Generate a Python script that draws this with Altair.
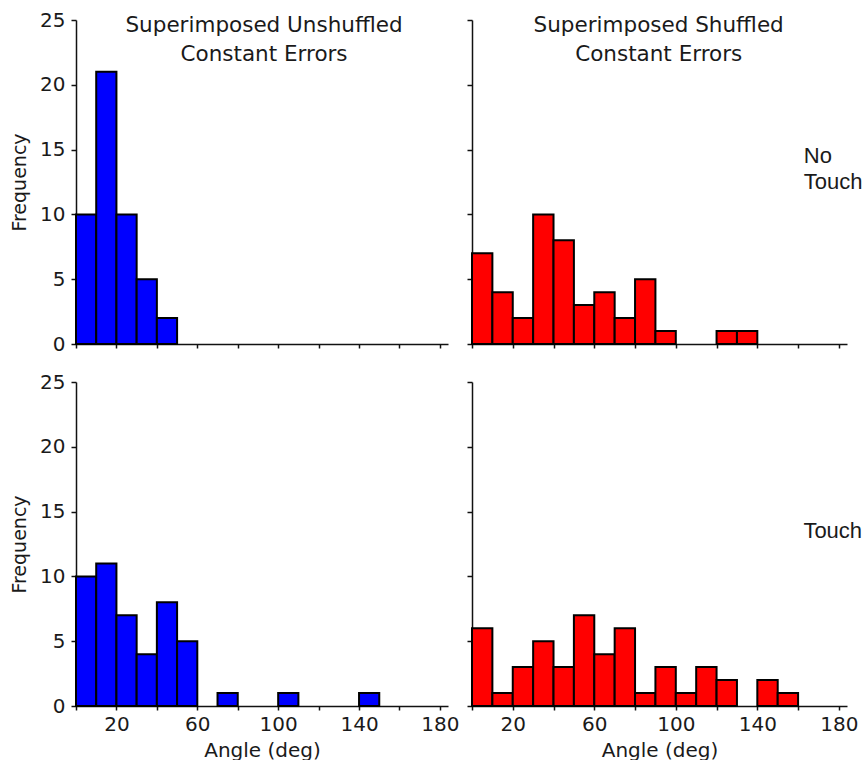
import altair as alt
import pandas as pd

# ---- data ----
bin_starts = list(range(0, 180, 10))
bin_width = 10
unshuffled_no_touch = [10, 21, 10, 5, 2, 0, 0, 0, 0, 0, 0, 0, 0, 0, 0, 0, 0, 0]
shuffled_no_touch = [7, 4, 2, 10, 8, 3, 4, 2, 5, 1, 0, 0, 1, 1, 0, 0, 0, 0]
unshuffled_touch = [10, 11, 7, 4, 8, 5, 0, 1, 0, 0, 1, 0, 0, 0, 1, 0, 0, 0]
shuffled_touch = [6, 1, 3, 5, 3, 7, 4, 6, 1, 3, 1, 3, 2, 0, 2, 1, 0, 0]
x_ticks = list(range(0, 181, 20))
y_ticks = [0, 5, 10, 15, 20, 25]
title_unshuffled = "Superimposed Unshuffled\nConstant Errors"
title_shuffled = "Superimposed Shuffled\nConstant Errors"
row_no_touch = "No\nTouch"
row_touch = "Touch"

FONT = "DejaVu Sans"
TXT = "#1a1a1a"
AX = "#111111"
X_MAX = 184
H = 324


def panel(counts, color, show_x_labels, show_y_labels, width,
          title=None, title_x=None, row_label=None, row_x=None, row_y=None):
    df = pd.DataFrame({
        "start": bin_starts,
        "end": [s + bin_width for s in bin_starts],
        "count": counts,
        "base": [0] * len(counts),
    })
    df = df[df["count"] > 0]

    xaxis_kw = dict(values=x_ticks, tickSize=4, tickWidth=1.5, domainWidth=1.5,
                    domainColor=AX, tickColor=AX, grid=False)
    if show_x_labels:
        xaxis_kw.update(labelExpr="datum.value % 40 == 0 ? '' : datum.label",
                        labelFont=FONT, labelFontSize=20, labelColor=TXT,
                        labelPadding=4, title="Angle (deg)", titleFont=FONT,
                        titleFontSize=20, titleFontWeight="normal",
                        titleColor=TXT, titlePadding=6)
    else:
        xaxis_kw.update(labels=False, title=None)

    yaxis_kw = dict(values=y_ticks, tickSize=5, tickWidth=1.5, domainWidth=1.5,
                    domainColor=AX, tickColor=AX, grid=False)
    if show_y_labels:
        yaxis_kw.update(labelFont=FONT, labelFontSize=20, labelColor=TXT,
                        labelPadding=6, title="Frequency", titleFont=FONT,
                        titleFontSize=19, titleFontWeight="normal",
                        titleColor=TXT, titlePadding=10)
    else:
        yaxis_kw.update(labels=False, title=None)

    xs = alt.Scale(domain=[0, X_MAX], nice=False, zero=False)
    ys = alt.Scale(domain=[0, 25], nice=False)

    def xe(f):
        return alt.X(f, type="quantitative", scale=xs, axis=alt.Axis(**xaxis_kw))

    def ye(f):
        return alt.Y(f, type="quantitative", scale=ys, axis=alt.Axis(**yaxis_kw))

    bars = alt.Chart(df).mark_rect(fill=color, stroke="black", strokeWidth=2).encode(
        x=xe("start"), x2="end", y=ye("count"), y2="base"
    )
    layers = [bars]
    if title is not None:
        tdf = pd.DataFrame({"x": [title_x], "y": [24.05], "t": [title]})
        layers.append(
            alt.Chart(tdf).mark_text(font=FONT, fontSize=21.5, color=TXT, align="center",
                                     baseline="alphabetic", lineBreak="\n", lineHeight=28.5)
            .encode(x=xe("x"), y=ye("y"), text="t:N")
        )
    if row_label is not None:
        rdf = pd.DataFrame({"x": [row_x], "y": [row_y], "t": [row_label]})
        layers.append(
            alt.Chart(rdf).mark_text(font="Liberation Sans", fontSize=22, color=TXT,
                                     align="left", baseline="alphabetic",
                                     lineBreak="\n", lineHeight=26.5)
            .encode(x=xe("x"), y=ye("y"), text="t:N")
        )
    return alt.layer(*layers).properties(width=width, height=H)


tl = panel(unshuffled_no_touch, "#0000FF", False, True, 372,
           title=title_unshuffled, title_x=93)
tr = panel(shuffled_no_touch, "#FF0000", False, False, 375,
           title=title_shuffled, title_x=91.6,
           row_label=row_no_touch, row_x=162.8, row_y=14.0)
bl = panel(unshuffled_touch, "#0000FF", True, True, 372)
br = panel(shuffled_touch, "#FF0000", True, False, 375,
           row_label=row_touch, row_x=162.6, row_y=12.95)

top = alt.hconcat(tl, tr, spacing=18)
bottom = alt.hconcat(bl, br, spacing=7)

chart = alt.vconcat(top, bottom, spacing=18).properties(
    padding={"left": 10, "top": 10, "right": 0, "bottom": 0},
    background="white",
).configure_view(stroke=None)

chart.save("out.html", embed_options={"renderer": "svg", "actions": False})
